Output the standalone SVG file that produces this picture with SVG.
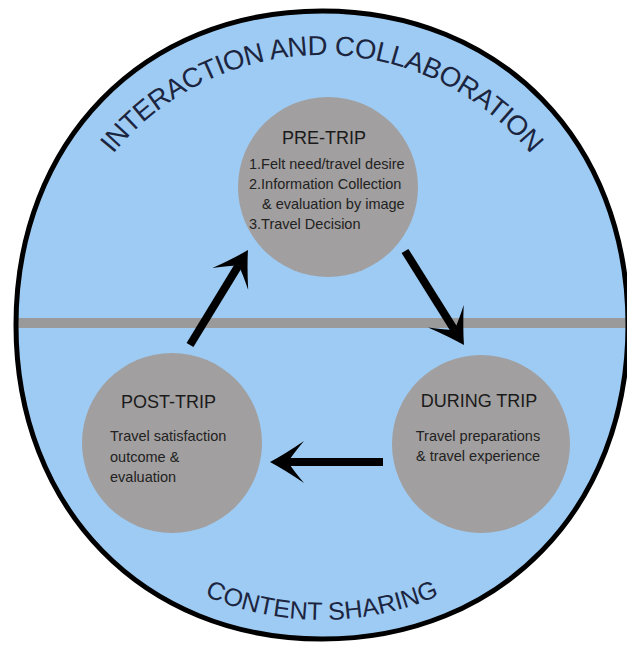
<svg xmlns="http://www.w3.org/2000/svg" xmlns:xlink="http://www.w3.org/1999/xlink" width="627" height="646" viewBox="0 0 627 646">
  <style>
    .node { fill: #a19f9f; }
    .title { font-family: "Liberation Sans", Arial, sans-serif; font-size: 18px; fill: #1a1a1a; }
    .body { font-family: "Liberation Sans", Arial, sans-serif; font-size: 14.5px; fill: #222222; }
    .arc { font-family: "Liberation Sans", Arial, sans-serif; fill: #1c2540; }
    .conn { stroke: #000000; stroke-width: 8; fill: none; }
    .head { fill: #000000; }
  </style>
  <defs>
    <path id="outline" d="M628,325 C628,508.4 500.7,639 322,639 C143.3,639 16,508.4 16,325 C16,141.6 143.3,11 322,11 C500.7,11 628,141.6 628,325 Z"/>
    <path id="topArc" d="M52,325 A270,270 0 0 1 592,325"/>
    <path id="bottomArc" d="M27,325 A295,295 0 0 0 617,325"/>
    <path id="head" d="M18,0 Q3,-8 -16,-21 Q-5,-8 0,0 Q-5,8 -16,21 Q3,8 18,0 Z"/>
  </defs>

  <g id="background">
    <use xlink:href="#outline" href="#outline" fill="#9ecbf3"/>
    <rect x="18" y="318" width="609" height="10" fill="#9a9a9a"/>
    <use xlink:href="#outline" href="#outline" fill="none" stroke="#000000" stroke-width="5"/>
  </g>

  <g id="arc-labels">
    <text class="arc" font-size="27.5"><textPath xlink:href="#topArc" href="#topArc" startOffset="50%" text-anchor="middle" textLength="478" lengthAdjust="spacing">INTERACTION AND COLLABORATION</textPath></text>
    <text class="arc" font-size="25"><textPath xlink:href="#bottomArc" href="#bottomArc" startOffset="50%" text-anchor="middle">CONTENT SHARING</textPath></text>
  </g>

  <g id="pre-trip">
    <circle class="node" cx="328" cy="187" r="90"/>
    <text class="title" x="324" y="144" text-anchor="middle">PRE-TRIP</text>
    <text class="body" x="249" y="169">1.Felt need/travel desire</text>
    <text class="body" x="249" y="189">2.Information Collection</text>
    <text class="body" x="262" y="209">&amp; evaluation by image</text>
    <text class="body" x="249" y="229">3.Travel Decision</text>
  </g>

  <g id="during-trip">
    <circle class="node" cx="481" cy="444" r="89"/>
    <text class="title" x="479" y="407" text-anchor="middle">DURING TRIP</text>
    <text class="body" x="478" y="441" text-anchor="middle">Travel preparations</text>
    <text class="body" x="478" y="461" text-anchor="middle">&amp; travel experience</text>
  </g>

  <g id="post-trip">
    <circle class="node" cx="172" cy="443" r="90"/>
    <text class="title" x="168.5" y="408" text-anchor="middle">POST-TRIP</text>
    <text class="body" x="110" y="441">Travel satisfaction</text>
    <text class="body" x="110" y="462">outcome &amp;</text>
    <text class="body" x="110" y="482">evaluation</text>
  </g>

  <g id="connectors">
    <line class="conn" x1="190" y1="345" x2="238.6" y2="265.4"/>
    <use class="head" xlink:href="#head" href="#head" transform="translate(238.6,265.4) rotate(-58.6)"/>
    <line class="conn" x1="405" y1="251" x2="454.4" y2="329.8"/>
    <use class="head" xlink:href="#head" href="#head" transform="translate(454.4,329.8) rotate(57.9)"/>
    <line class="conn" x1="383" y1="462" x2="288" y2="462"/>
    <use class="head" xlink:href="#head" href="#head" transform="translate(288,462) rotate(180)"/>
  </g>
</svg>
